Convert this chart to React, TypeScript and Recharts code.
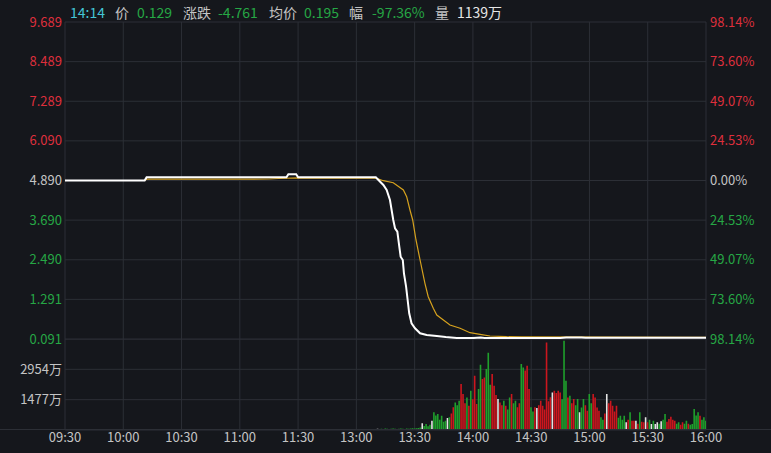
import { ComposedChart, Line, Bar, Cell, XAxis, YAxis, CartesianGrid } from "recharts"

const prevClose = 4.89

const timeTicks = [0, 30, 60, 90, 120, 150, 180, 210, 240, 270, 300, 330]
const timeLabels = ["09:30", "10:00", "10:30", "11:00", "11:30", "13:00", "13:30", "14:00", "14:30", "15:00", "15:30", "16:00"]

const priceTicks = [0.091, 1.291, 2.49, 3.69, 4.89, 6.09, 7.289, 8.489, 9.689]
const priceLabels = ["0.091", "1.291", "2.490", "3.690", "4.890", "6.090", "7.289", "8.489", "9.689"]
const pctLabels = ["98.14%", "73.60%", "49.07%", "24.53%", "0.00%", "24.53%", "49.07%", "73.60%", "98.14%"]

// minute index from 09:30 (lunch break collapsed)
const priceMin = [0, 41, 42, 114, 115, 119, 120, 160, 163.9, 165.6, 167.3, 169, 169.9, 171.1, 172.1, 172.8, 173.9, 174.5, 175.6, 176.4, 177.2, 178.4, 180.2, 182.8, 186.2, 191.4, 196, 201.7, 210, 214, 216, 255, 258, 266, 268, 330]
const priceVal = [4.89, 4.89, 4.985, 4.985, 5.08, 5.08, 4.985, 4.99, 4.754, 4.602, 4.3, 3.694, 3.443, 3.34, 2.886, 2.583, 2.483, 2.08, 1.675, 1.272, 0.869, 0.567, 0.415, 0.264, 0.212, 0.182, 0.15, 0.125, 0.12, 0.135, 0.125, 0.125, 0.14, 0.14, 0.13, 0.13]

const avgMin = [0, 41, 42, 105, 110, 120, 160, 163.9, 169, 174.2, 175.9, 177.6, 179, 180.7, 182.8, 185.3, 187, 189.6, 191.4, 194.8, 198.2, 203.4, 208.5, 213.7, 218.8, 227.4, 235.1, 330]
const avgVal = [4.89, 4.89, 4.93, 4.935, 4.95, 4.97, 4.96, 4.884, 4.823, 4.602, 4.4, 3.997, 3.694, 3.089, 2.483, 1.778, 1.372, 1.021, 0.818, 0.667, 0.515, 0.415, 0.282, 0.233, 0.182, 0.161, 0.155, 0.14]

const volTicks = [0, 1477, 2954, 4431]
const volLabels = ["", "1477万", "2954万", ""]

const amMin = [0, 44, 63, 103, 115, 126]
const amVol = [40, 40, 40, 40, 40, 40]

const pmStart = 150
const pmVol = [
  0, 0, 0, 0, 0, 0, 0, 0, 0, 0,
  0, 60, 50, 60, 50, 70, 60, 50, 60, 70,
  60, 50, 60, 70, 60, 50, 70, 60, 70, 80,
  70, 90, 100, 120, 324, 200, 292, 180, 260, 454,
  859, 700, 778, 500, 697, 400, 450, 583, 616, 800,
  1102, 1345, 1200, 1426, 2236, 1750, 1300, 1588, 1183, 1912,
  1500, 2641, 1264, 2000, 3175, 2479, 2560, 2965, 3758, 2200,
  2722, 2155, 1700, 1507, 1345, 1200, 1426, 1183, 1000, 1588,
  1750, 1300, 1426, 1102, 1300, 3208, 3046, 2900, 3127, 1993,
  1102, 900, 1102, 1069, 1200, 1426, 1183, 1000, 4261, 1400,
  1600, 1831, 1912, 1800, 1912, 1831, 1500, 4341, 2398, 1588,
  1669, 1300, 1507, 1200, 1507, 859, 1100, 1507, 1200, 940,
  1750, 1300, 1750, 1588, 1100, 940, 616, 500, 800, 1750,
  1300, 1426, 1183, 900, 1183, 600, 697, 500, 697, 373,
  500, 859, 454, 454, 454, 300, 859, 400, 373, 616,
  373, 500, 292, 454, 292, 373, 300, 421, 500, 778,
  400, 535, 648, 500, 454, 300, 373, 250, 373, 300,
  454, 300, 250, 292, 1021, 700, 859, 697, 500, 616,
  454,
]
// r = up, g = down, w = flat
const pmColor =
  "wwwwwwwwww" + "wwgggggggg" + "gggggggggg" + "ggggwggggw" + "gggggggwgr" +
  "rgggrrrgrg" + "rrrggrrggg" + "rrrwrrgrgg" + "rggrrggrrr" + "ggrwrrrrrr" +
  "rwrrrrgggr" + "grrggwggrr" + "ggrrrrggrw" + "rrrrrggggw" + "rgrrwrgrrw" +
  "rgwgwwgwgg" + "rrrrrggrrg" + "grgggggrgg" + "g"

const BG = "#15171c"
const GRID = "#2c2f36"
const RED = "#de2f3c"
const GREEN = "#26a745"
const GRAY = "#c4c4c4"
const FONT = "'Noto Sans CJK SC', 'Noto Sans', sans-serif"
const barColors: Record<string, string> = { r: "#cc161e", g: "#1fa02c", w: "#e4e4e4" }

const priceData = priceMin.map((i, k) => ({ i, v: priceVal[k] }))
const avgData = avgMin.map((i, k) => ({ i, v: avgVal[k] }))
const volData = [
  ...amMin.map((i, k) => ({ i, v: amVol[k], c: "w" })),
  ...pmVol.map((v, k) => ({ i: pmStart + k, v, c: pmColor[k] })),
]

const colorFor = (v: number) => (v > prevClose + 0.001 ? RED : v < prevClose - 0.001 ? GREEN : GRAY)

function PriceTick(props: any) {
  const { x, y, payload, textAnchor } = props
  const idx = priceTicks.indexOf(payload.value)
  return (
    <text x={x} y={y} dy="0.35em" textAnchor={textAnchor} fill={colorFor(payload.value)} fontSize={13} fontFamily={FONT}>
      {priceLabels[idx]}
    </text>
  )
}

function PctTick(props: any) {
  const { x, y, payload, textAnchor } = props
  const idx = priceTicks.indexOf(payload.value)
  return (
    <text x={x} y={y} dy="0.35em" textAnchor={textAnchor} fill={colorFor(payload.value)} fontSize={13} fontFamily={FONT}>
      {pctLabels[idx]}
    </text>
  )
}

function VolTick(props: any) {
  const { x, y, payload, textAnchor } = props
  const idx = volTicks.indexOf(payload.value)
  return (
    <text x={x} y={y} dy="0.35em" textAnchor={textAnchor} fill={GRAY} fontSize={13} fontFamily={FONT}>
      {volLabels[idx]}
    </text>
  )
}

function TimeTick(props: any) {
  const { x, y, payload } = props
  const idx = timeTicks.indexOf(payload.value)
  return (
    <text x={x} y={y} dy="0.71em" textAnchor="middle" fill={GRAY} fontSize={13} fontFamily={FONT}>
      {timeLabels[idx]}
    </text>
  )
}

const head = { position: "absolute" as const, top: 3, fontSize: 14, lineHeight: "18px", fontFamily: FONT, whiteSpace: "nowrap" as const }

export default function App() {
  return (
    <div style={{ position: "absolute", left: 0, top: 0, width: 771, height: 453, background: BG, overflow: "hidden" }}>
      <span style={{ ...head, left: 70, color: "#43c6d6" }}>14:14</span>
      <span style={{ ...head, left: 115, color: GRAY }}>价</span>
      <span style={{ ...head, left: 137, color: GREEN }}>0.129</span>
      <span style={{ ...head, left: 183, color: GRAY }}>涨跌</span>
      <span style={{ ...head, left: 218, color: GREEN }}>-4.761</span>
      <span style={{ ...head, left: 269, color: GRAY }}>均价</span>
      <span style={{ ...head, left: 304, color: GREEN }}>0.195</span>
      <span style={{ ...head, left: 349, color: GRAY }}>幅</span>
      <span style={{ ...head, left: 372, color: GREEN }}>-97.36%</span>
      <span style={{ ...head, left: 435, color: GRAY }}>量</span>
      <span style={{ ...head, left: 457, color: "#e6e6e6" }}>1139万</span>

      <div style={{ position: "absolute", left: 0, top: 339 }}>
        <ComposedChart width={771} height={114} data={volData} margin={{ top: 0, right: 0, bottom: 0, left: 0 }}>
          <CartesianGrid yAxisId="vl" stroke={GRID} />
          <XAxis dataKey="i" type="number" domain={[0, 330]} ticks={timeTicks} interval={0} height={23}
            axisLine={false} tickLine={false} tickSize={0} tickMargin={3} tick={TimeTick} allowDataOverflow />
          <YAxis yAxisId="vl" type="number" domain={[0, 4431]} ticks={volTicks} interval={0} width={65}
            axisLine={false} tickLine={false} tickSize={0} tickMargin={3} tick={VolTick} />
          <YAxis yAxisId="vr" orientation="right" type="number" domain={[0, 4431]} ticks={volTicks} interval={0} width={65}
            axisLine={false} tickLine={false} tickSize={0} tickMargin={4} tick={VolTick} />
          <Bar yAxisId="vl" dataKey="v" barSize={1.6} isAnimationActive={false}>
            {volData.map((d, k) => (
              <Cell key={k} fill={barColors[d.c]} />
            ))}
          </Bar>
        </ComposedChart>
      </div>

      <div style={{ position: "absolute", left: 0, top: 429, width: 771, height: 1, background: GRID }} />

      <div style={{ position: "absolute", left: 0, top: 0 }}>
        <ComposedChart width={771} height={352} margin={{ top: 22, right: 0, bottom: 13, left: 0 }}>
          <CartesianGrid yAxisId="p" stroke={GRID} />
          <XAxis dataKey="i" type="number" domain={[0, 330]} ticks={timeTicks} interval={0} hide allowDataOverflow />
          <YAxis yAxisId="p" type="number" domain={[0.091, 9.689]} ticks={priceTicks} interval={0} width={65}
            axisLine={false} tickLine={false} tickSize={0} tickMargin={3} tick={PriceTick} allowDataOverflow />
          <YAxis yAxisId="r" orientation="right" type="number" domain={[0.091, 9.689]} ticks={priceTicks} interval={0} width={65}
            axisLine={false} tickLine={false} tickSize={0} tickMargin={4} tick={PctTick} allowDataOverflow />
          <Line yAxisId="r" data={avgData} dataKey="v" type="linear" stroke="#d6a21e" strokeWidth={1.2} dot={false} isAnimationActive={false} />
          <Line yAxisId="p" data={priceData} dataKey="v" type="linear" stroke="#ffffff" strokeWidth={2} dot={false} isAnimationActive={false} />
        </ComposedChart>
      </div>
    </div>
  )
}
